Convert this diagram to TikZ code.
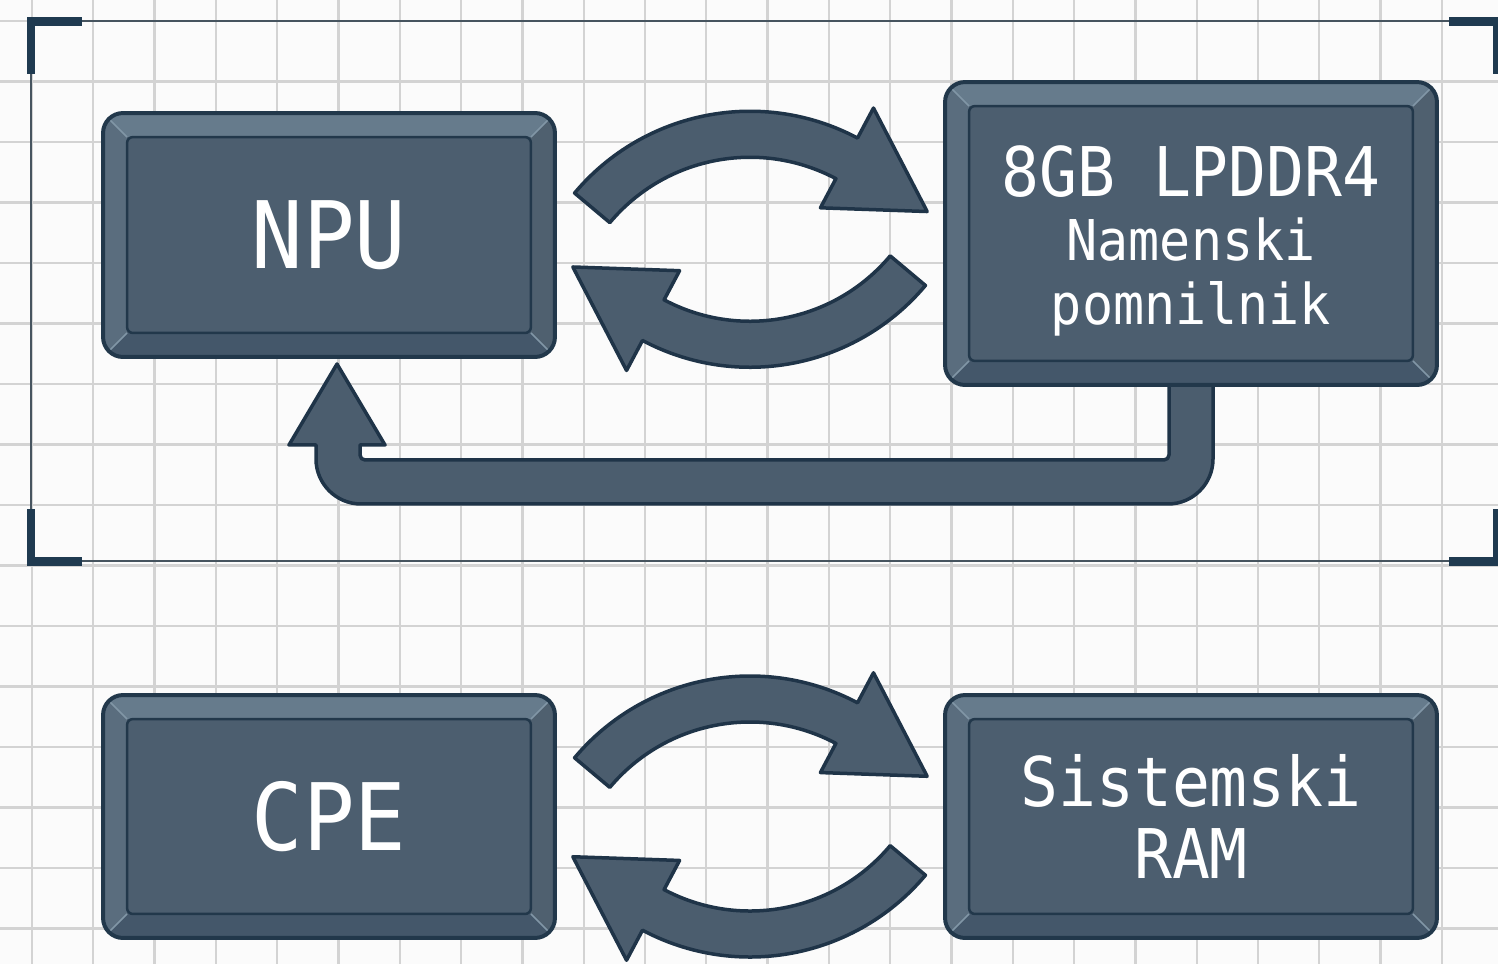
\documentclass[tikz,border=0pt]{standalone}
\usepackage{fontspec}
\newfontfamily\chipfont[FakeStretch=0.92]{DejaVu Sans Mono}
\usetikzlibrary{positioning,calc,backgrounds}

\definecolor{paper}{HTML}{FBFBFB}
\definecolor{gridgray}{HTML}{D3D3D3}
\definecolor{framegray}{HTML}{46545F}
\definecolor{framedark}{HTML}{1F3A50}
\definecolor{chipface}{HTML}{4C5E6F}
\definecolor{chiptop}{HTML}{667B8C}
\definecolor{chipside}{HTML}{5A6D7E}
\definecolor{chipbot}{HTML}{44576A}
\definecolor{chipline}{HTML}{22384B}
\definecolor{chiphi}{HTML}{8196A6}
\definecolor{arrowfill}{HTML}{4B5D6E}
\definecolor{arrowline}{HTML}{1F3448}

\tikzset{
  gridline/.style={draw=gridgray, line width=0.045cm},
  framethin/.style={draw=framegray, line width=0.05cm},
  bracket/.style={draw=framedark, line width=0.18cm, line cap=rect},
  fatarrow/.style={draw=arrowline, fill=arrowfill, line width=0.07cm, line join=round},
  chip/.style={rectangle, rounded corners=0.4cm, draw=chipline, line width=0.08cm,
    fill=chipface, text=white, align=center,
    path picture={
      \coordinate (sw) at (path picture bounding box.south west);
      \coordinate (ne) at (path picture bounding box.north east);
      \coordinate (nw) at (sw |- ne);
      \coordinate (se) at (ne |- sw);
      % bevel faces
      \fill[chiptop, sharp corners] (nw) -- (ne) -- ($(ne)+(-0.48cm,-0.48cm)$) -- ($(nw)+(0.48cm,-0.48cm)$) -- cycle;
      \fill[chipbot, sharp corners] (sw) -- (se) -- ($(se)+(-0.48cm,0.48cm)$) -- ($(sw)+(0.48cm,0.48cm)$) -- cycle;
      \fill[chipside, sharp corners] (sw) -- ($(sw)+(0.48cm,0.48cm)$) -- ($(nw)+(0.48cm,-0.48cm)$) -- (nw) -- cycle;
      \fill[chipside!88!black, sharp corners] (se) -- ($(se)+(-0.48cm,0.48cm)$) -- ($(ne)+(-0.48cm,-0.48cm)$) -- (ne) -- cycle;
      \draw[chiphi, line width=0.03cm, sharp corners] (sw) -- ++(0.48cm,0.48cm) (nw) -- ++(0.48cm,-0.48cm)
        (ne) -- ++(-0.48cm,-0.48cm) (se) -- ++(-0.48cm,0.48cm);
      % inner panel
      \draw[draw=chipline, fill=chipface, line width=0.05cm, rounded corners=0.12cm]
        ($(sw)+(0.48cm,0.48cm)$) rectangle ($(ne)+(-0.48cm,-0.48cm)$);
    }},
  pics/swap/.style={code={
    \foreach \turn in {0,180}
      \draw[fatarrow, rotate=\turn, shift={(0,-#1)}]
        (140:229) arc[start angle=140, end angle=62, radius=229]
        -- (62:263) -- (36:219) -- (62:150) -- (62:183)
        arc[start angle=62, end angle=140, radius=183] -- cycle;
  }},
}

\begin{document}
\begin{tikzpicture}[x=0.02cm, y=0.02cm]
    \useasboundingbox (0,0) rectangle (1498,-964);

    % paper, grid and the NPU frame
    \begin{scope}[on background layer]
        \fill[paper] (0,0) rectangle (1498,-964);
        \foreach \gx in {0,...,23}
            \draw[gridline] (32+61.3*\gx,0) -- ++(0,-964);
        \foreach \gy in {0,...,15}
            \draw[gridline] (0,-21-60.5*\gy) -- ++(1498,0);
        \draw[framethin] (1498,-21) -- (31,-21) -- (31,-561) -- (1498,-561);
        \draw[bracket] (78,-21) -- (31,-21) -- (31,-69);
        \draw[bracket] (31,-513) -- (31,-561) -- (78,-561);
        \draw[bracket] (1453,-21) -- (1497,-21) -- (1497,-69);
        \draw[bracket] (1453,-561) -- (1497,-561) -- (1497,-513);
    \end{scope}

    % blocks
    \node[chip, minimum width=9.04cm, minimum height=4.88cm,
          font=\chipfont\fontsize{53}{60}\selectfont] (npu) at (329,-235) {NPU};
    \node[chip, minimum width=9.84cm, minimum height=6.06cm,
          font=\chipfont\fontsize{32}{36.5}\selectfont] (mem) at (1191,-233.5)
          {\rule{0pt}{37pt}{\fontsize{39}{39}\selectfont 8GB LPDDR4}\\Namenski\\pomnilnik};
    \node[chip, minimum width=9.04cm, minimum height=4.86cm,
          font=\chipfont\fontsize{53}{60}\selectfont] (cpe) at (329,-816.5) {CPE};
    \node[chip, minimum width=9.84cm, minimum height=4.86cm,
          font=\chipfont\fontsize{39}{41}\selectfont] (ram) at (1191,-816.5) {Sistemski\\RAM};

    % exchange arrows
    \pic at ($(npu.east)!0.5!(mem.west)+(0,-5)$) {swap=101};
    \pic at ($(cpe.east)!0.5!(ram.west)$) {swap=88.5};

    % feedback from memory back to the NPU
    \begin{scope}[on background layer]
        \draw[fatarrow]
            ($(mem.south)+(-22,12)$) [rounded corners=0.1cm]
            -- ($(mem.south)+(-22,-73)$)
            -- ($(npu.south)+(31,-101)$) [sharp corners]
            -- ($(npu.south)+(31,-86)$)
            -- ($(npu.south)+(56,-86)$)
            -- ($(npu.south)+(8,-5)$)
            -- ($(npu.south)+(-40,-86)$)
            -- ($(npu.south)+(-13,-86)$) [rounded corners=0.9cm]
            -- ($(npu.south)+(-13,-145)$)
            -- ($(mem.south)+(22,-117)$) [sharp corners]
            -- ($(mem.south)+(22,12)$)
            -- cycle;
    \end{scope}
\end{tikzpicture}
\end{document}
